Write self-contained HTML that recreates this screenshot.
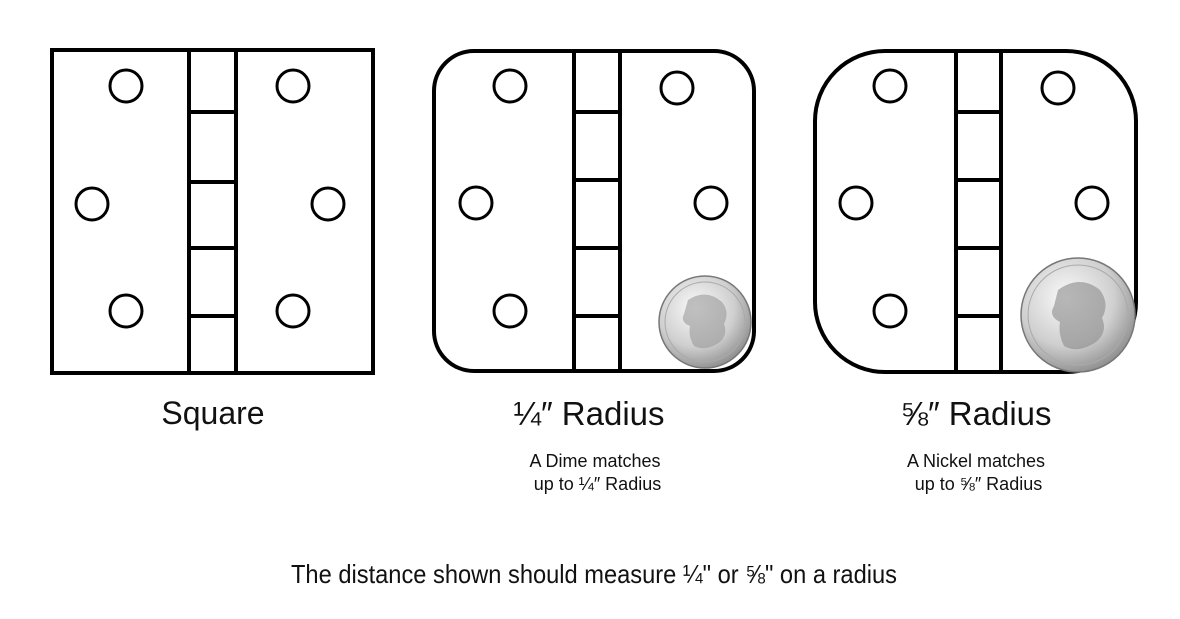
<!DOCTYPE html>
<html><head><style>
html,body{margin:0;padding:0;background:#fff;}
body{width:1180px;height:619px;position:relative;overflow:hidden;font-family:"Liberation Sans",sans-serif;}
.t{position:absolute;text-align:center;color:#111;white-space:nowrap;}
</style></head><body>
<svg width="1180" height="619" style="position:absolute;left:0;top:0">
<defs>
<radialGradient id="coin" cx="40%" cy="35%" r="70%">
<stop offset="0" stop-color="#fafafa"/><stop offset="0.6" stop-color="#cfcfcf"/><stop offset="1" stop-color="#8a8a8a"/>
</radialGradient>
</defs>
<g fill="none" stroke="#000" stroke-width="4">
<rect x="52" y="50" width="321" height="323"/>
<line x1="189" y1="50" x2="189" y2="373"/><line x1="236" y1="50" x2="236" y2="373"/>
<line x1="189" y1="112" x2="236" y2="112"/><line x1="189" y1="182" x2="236" y2="182"/><line x1="189" y1="248" x2="236" y2="248"/><line x1="189" y1="316" x2="236" y2="316"/>
<g stroke-width="3"><circle cx="126" cy="86" r="16"/><circle cx="92" cy="204" r="16"/><circle cx="126" cy="311" r="16"/><circle cx="293" cy="86" r="16"/><circle cx="328" cy="204" r="16"/><circle cx="293" cy="311" r="16"/></g>
<rect x="434" y="51" width="320" height="320" rx="40"/>
<line x1="574" y1="51" x2="574" y2="371"/><line x1="620" y1="51" x2="620" y2="371"/>
<line x1="574" y1="112" x2="620" y2="112"/><line x1="574" y1="180" x2="620" y2="180"/><line x1="574" y1="248" x2="620" y2="248"/><line x1="574" y1="316" x2="620" y2="316"/>
<g stroke-width="3"><circle cx="510" cy="86" r="16"/><circle cx="476" cy="203" r="16"/><circle cx="510" cy="311" r="16"/><circle cx="677" cy="88" r="16"/><circle cx="711" cy="203" r="16"/></g>
<rect x="815" y="51" width="321" height="321" rx="70"/>
<line x1="956" y1="51" x2="956" y2="372"/><line x1="1001" y1="51" x2="1001" y2="372"/>
<line x1="956" y1="112" x2="1001" y2="112"/><line x1="956" y1="180" x2="1001" y2="180"/><line x1="956" y1="248" x2="1001" y2="248"/><line x1="956" y1="316" x2="1001" y2="316"/>
<g stroke-width="3"><circle cx="890" cy="86" r="16"/><circle cx="856" cy="203" r="16"/><circle cx="890" cy="311" r="16"/><circle cx="1058" cy="88" r="16"/><circle cx="1092" cy="203" r="16"/></g>
</g>
<circle cx="705" cy="322" r="46" fill="url(#coin)" stroke="#777" stroke-width="1.5"/>
<circle cx="705" cy="322" r="40" fill="none" stroke="#aaa" stroke-width="1"/>
<path d="M688 300 q18 -12 34 2 q8 10 2 22 q4 10 -4 18 q-14 10 -26 4 q-6 -10 -4 -20 q-10 -4 -6 -12 z" fill="#9a9a9a" opacity="0.6"/>
<circle cx="1078" cy="315" r="57" fill="url(#coin)" stroke="#777" stroke-width="1.5"/>
<circle cx="1078" cy="315" r="50" fill="none" stroke="#aaa" stroke-width="1"/>
<path d="M1058 290 q22 -16 42 0 q10 14 2 28 q6 14 -6 24 q-18 12 -32 4 q-6 -12 -4 -24 q-12 -6 -6 -16 z" fill="#8a8a8a" opacity="0.6"/>
</svg>
<div class="t" style="left:113px;top:395px;width:200px;font-size:32px;">Square</div>
<div class="t" style="left:489px;top:395px;width:200px;font-size:33px;">¼″ Radius</div>
<div class="t" style="left:876px;top:395px;width:200px;font-size:33px;">⅝″ Radius</div>
<div class="t" style="left:495px;top:450px;width:200px;font-size:18px;line-height:23px;">A Dime matches<br>&nbsp;up to ¼″ Radius</div>
<div class="t" style="left:876px;top:450px;width:200px;font-size:18px;line-height:23px;">A Nickel matches<br>&nbsp;up to ⅝″ Radius</div>
<div class="t" style="left:244px;top:559px;width:700px;font-size:26px;transform:scaleX(0.91);">The distance shown should measure ¼" or ⅝" on a radius</div>
</body></html>
